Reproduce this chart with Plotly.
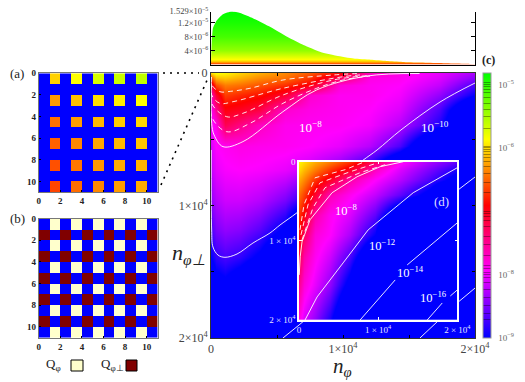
import plotly.graph_objects as go

W, H = 525, 382
SERIF = "Liberation Serif"

def fx(p): return p / W
def fy(p): return 1 - p / H

# ---- main map (log10 values)
main_x = [0, 380, 1060, 2200, 3710, 5610, 7500, 9770, 12050, 14320, 17350, 20000]
main_y = [0, 380, 910, 1660, 2790, 3920, 5510, 7320, 9580, 11850, 13890, 16380, 20000]
main_z = [
 [-6.0,-5.85,-5.9,-6.05,-6.2,-6.35,-6.55,-6.9,-7.7,-7.85,-8.05,-8.3],
 [-6.6,-6.15,-6.1,-6.2,-6.35,-6.45,-6.7,-7.3,-7.85,-7.9,-8.1,-8.45],
 [-7.2,-6.6,-6.4,-6.45,-6.57,-6.72,-6.95,-7.8,-7.9,-7.95,-8.2,-8.7],
 [-7.7,-7.1,-6.66,-6.75,-6.85,-7.1,-7.75,-7.9,-7.9,-8.0,-8.4,-9.0],
 [-7.9,-7.5,-6.97,-7.05,-7.2,-7.75,-7.85,-7.9,-7.95,-8.1,-8.7,-9.8],
 [-8.0,-7.85,-7.25,-7.45,-7.7,-7.88,-7.9,-7.92,-8.0,-8.25,-8.9,-10],
 [-8.1,-7.95,-7.9,-7.85,-7.88,-7.9,-7.95,-8.05,-8.25,-8.7,-10,-12],
 [-8.2,-8.05,-7.98,-7.95,-7.98,-8.05,-8.2,-8.5,-9,-10,-12,-13],
 [-8.4,-8.25,-8.15,-8.15,-8.25,-8.5,-9,-10,-12,-13,-14,-15],
 [-8.7,-8.5,-8.4,-8.45,-8.65,-9.1,-10.5,-12,-13,-14,-15,-16],
 [-9,-8.8,-8.7,-8.8,-9.1,-9.8,-12,-13,-14,-15,-16,-17],
 [-9.6,-9.3,-9.2,-9.5,-10,-11.5,-13,-14,-15,-16,-17,-18],
 [-11,-11,-11,-11.5,-12,-13,-14,-15,-16,-17,-18,-19],
]

# main contour lines
m_d1 = ([30,60,680,1500,2950,5450,9250,11050], [300,906,1411,1380,1155,528,151,38])
m_d2 = ([30,50,680,1670,5450,10000,11290], [800,1660,2290,2165,1155,280,150])
m_d3 = ([30,50,1190,2420,5450,9250,11820], [1000,2290,3300,3040,1660,530,200])
m_d4 = ([30,50,1190,2950,5450,8000,10000,12050], [1500,3300,4430,3800,2290,1155,530,230])
m_s8 = ([15,20,50,230,910,2420,5450,8000,11820,15800], [300,1800,3800,4670,5560,5180,2920,1280,230,40])
m_s10 = ([20,50,150,530,1060,1970,3180,4470,5230,6590,11440,12580,14390,17350,20000],
         [5810,11850,13130,13740,13910,13660,12830,12075,11470,10490,6640,5810,4300,2190,755])
m_s12 = ([5450,6670,18710,20000], [20000,19020,8830,7850])
m_s14 = ([15830,17200,18640,20000], [20000,18720,17360,16230])

# ---- inset map
ins_x = [0, 630, 2030, 3930, 6460, 9620, 12790, 16590, 20000]
ins_y = [0, 1010, 2280, 4180, 6710, 9240, 12030, 15570, 20000]
ins_z = [
 [-5.9,-6.0,-6.2,-6.4,-6.7,-7.3,-7.9,-8.3,-8.6],
 [-6.0,-6.15,-6.4,-6.7,-7.05,-7.7,-8.1,-8.5,-8.9],
 [-6.2,-6.35,-6.7,-7.05,-7.6,-7.95,-8.25,-8.7,-9.2],
 [-6.45,-6.65,-7.1,-7.65,-7.9,-8.2,-8.6,-9.2,-10.5],
 [-6.7,-6.95,-7.6,-7.9,-8.1,-8.6,-9.6,-11,-12],
 [-6.9,-7.3,-7.8,-7.95,-8.3,-9.0,-11,-12,-13],
 [-7.2,-7.6,-7.9,-8.15,-8.7,-9.8,-12,-13,-14],
 [-7.5,-7.8,-8.05,-8.4,-9.2,-11,-13,-14,-15],
 [-7.85,-8.1,-8.4,-8.9,-10,-13,-14,-15,-16],
]
i_d1 = ([130,630,2030,5820,7980], [8610,5440,2030,1010,130])
i_d2 = ([250,1140,2660,6460,9620], [9240,5440,2660,1270,250])
i_d3 = ([380,1770,3290,7720,10890], [9880,5820,3290,1390,380])
i_s8 = ([30,150,380,1390,4180,7340,10250,13170], [14300,12000,10130,7340,3920,1900,630,0])
i_s12 = ([760,2280,5570,8740,14430,20000], [20000,17090,12790,8610,3920,760])
i_s14 = ([7720,12150,None,13670,20000], [20000,14940,None,13040,7720])
i_s16 = ([16200,18100,None,19120,20000], [20000,17850,None,16960,16200])

# ---- top profile
top_x = [0,50,150,430,900,1570,2200,3200,4500,5800,7000,8300,9500,10800,12100,13300,14500,15800,17100,19600,20000]
top_y = [0,6.2e-6,1.05e-5,1.27e-5,1.45e-5,1.529e-5,1.485e-5,1.33e-5,1.08e-5,7.9e-6,5.6e-6,3.6e-6,2.5e-6,1.7e-6,
         1.35e-6,1e-6,7.5e-7,5.5e-7,4e-7,1.5e-7,1e-7]
top_ticks = [4e-6, 8e-6, 1.2e-5, 1.529e-5]
top_labels = ["4×10<sup>−6</sup>", "8×10<sup>−6</sup>", "1.2×10<sup>−5</sup>", "1.529×10<sup>−5</sup>"]
grad_stops = [[0,"#FF3000"],[0.02,"#FF5F00"],[0.046,"#FFB800"],[0.09,"#FFFF00"],[0.26,"#93FF00"],
              [0.52,"#45FF00"],[0.785,"#19FF00"],[1,"#00FF00"]]

# ---- panel (a) and (b)
N = -12
a_z = [
 [N,-6.05,N,-5.86,N,-5.70,N,-5.64,N,-5.60,N],
 [N]*11,
 [N,-6.28,N,-6.12,N,-6.00,N,-5.93,N,-5.86,N],
 [N]*11,
 [N,-6.45,N,-6.26,N,-6.15,N,-6.07,N,-6.02,N],
 [N]*11,
 [N,-6.51,N,-6.35,N,-6.22,N,-6.15,N,-6.10,N],
 [N]*11,
 [N,-6.58,N,-6.42,N,-6.29,N,-6.21,N,-6.17,N],
 [N]*11,
 [N,-6.63,N,-6.46,N,-6.35,N,-6.27,N,-6.21,N],
]
row_even = [0,1,0,1,0,1,0,1,0,1,0]
row_odd = [2,0,2,0,2,0,2,0,2,0,2]
b_z = [row_even, row_odd, row_even, row_odd, row_even, row_odd, row_even, row_odd, row_even, row_odd, row_even]
cells = [0.5,1.5,2.5,3.5,4.5,5.5,6.5,7.5,8.5,9.5,10.5]

# ---- colour bar stripes
cb_stripes = [-4.97,-5.03,-5.07,-5.12,-5.21,-5.30,-5.39,-5.50,-5.70,-5.98,-6.02,-6.06,-6.10,-6.15,-6.21,-6.30,-6.40,
              -6.55,-6.71,-7.0,-7.04,-7.08,-7.14,-7.24,-7.40,-7.53,-7.70,-7.86,-7.91,-7.96,-8.04,-8.12,-8.23,-8.36,
              -8.48,-8.62,-8.70]
cb_decades = [-5,-6,-7,-8,-9]
cb_decade_text = ["  10<sup>−5</sup>","  10<sup>−6</sup>","  10<sup>−7</sup>","  10<sup>−8</sup>","  10<sup>−9</sup>"]

colors = [[0,"#0000FF"],[0.25,"#FF00FF"],[0.5,"#FF0000"],[0.75,"#FFFF00"],[1,"#00FF00"]]

fig = go.Figure()

# main
fig.add_trace(go.Heatmap(x=main_x, y=main_y, z=main_z, coloraxis="coloraxis", zsmooth="best",
                         hoverinfo="skip", xaxis="x", yaxis="y"))

def lines(data, ax, ay, dash=None, shape="linear"):
    fig.add_trace(go.Scatter(x=data[0], y=data[1], mode="lines", xaxis=ax, yaxis=ay, showlegend=False,
                             hoverinfo="skip",
                             line=dict(color="rgba(255,255,255,0.9)", width=1, dash=dash or "solid",
                                       shape=shape)))

for d in (m_d1, m_d2, m_d3, m_d4):
    lines(d, "x", "y", "5px,4px", "spline")
for d in (m_s8, m_s10):
    lines(d, "x", "y", None, "spline")
for d in (m_s12, m_s14):
    lines(d, "x", "y")

# top
fig.add_trace(go.Scatter(x=top_x, y=top_y, mode="lines", fill="tozeroy", xaxis="x2", yaxis="y2", showlegend=False,
                         line=dict(width=0, shape="spline", smoothing=0.5), hoverinfo="skip",
                         fillgradient=dict(type="vertical", colorscale=grad_stops, start=0, stop=1.529e-5)))

# a, b
fig.add_trace(go.Heatmap(x=cells, y=cells, z=a_z, coloraxis="coloraxis", xaxis="x3", yaxis="y3", hoverinfo="skip"))
fig.add_trace(go.Heatmap(x=cells, y=cells, z=b_z, coloraxis="coloraxis2", xaxis="x4", yaxis="y4", hoverinfo="skip"))

# inset
fig.add_trace(go.Heatmap(x=ins_x, y=ins_y, z=ins_z, coloraxis="coloraxis", zsmooth="best",
                         hoverinfo="skip", xaxis="x5", yaxis="y5"))
for d in (i_d1, i_d2, i_d3):
    lines(d, "x5", "y5", "5px,4px")
for d in (i_s8, i_s12, i_s14, i_s16):
    lines(d, "x5", "y5")

big_ticks = [0, 5000, 10000, 15000, 20000]
big_text = ["0", "", "1×10<sup>4</sup>", "", "2×10<sup>4</sup>"]
ink = "#333333"
lab = dict(family=SERIF, size=12, color="#444444")

small_ticks = [0, 2, 4, 6, 8, 10]
small_font = dict(family=SERIF, size=9, color="#222222")
small = dict(tickmode="array", tickvals=small_ticks, ticktext=[f"<b>{v}</b>" for v in small_ticks], ticks="inside",
             ticklen=2, tickcolor="black", showgrid=False, zeroline=False, showline=True, linecolor="#777777",
             mirror=True, tickfont=small_font, linewidth=1)
inset_font = dict(family=SERIF, size=9, color="#E8E8FF")

fig.update_layout(
    width=W, height=H, autosize=False, margin=dict(l=0, r=0, t=0, b=0, autoexpand=False),
    paper_bgcolor="white", plot_bgcolor="white", showlegend=False,
    font=dict(family=SERIF, color="#333333"),
    coloraxis=dict(cmin=-9, cmax=-4.816, colorscale=colors,
                   colorbar=dict(x=fx(483.4), xanchor="left", xpad=0, y=fy(338), yanchor="bottom", ypad=0,
                                 thickness=8.4, thicknessmode="pixels", len=265, lenmode="pixels",
                                 outlinecolor="#999999", outlinewidth=1,
                                 tickmode="array", tickvals=cb_stripes + cb_decades,
                                 ticktext=[""] * len(cb_stripes) + cb_decade_text,
                                 ticks="inside", ticklen=8, tickwidth=1, tickcolor="rgba(0,0,0,0.35)",
                                 tickfont=dict(family=SERIF, size=9, color="#666666"))),
    coloraxis2=dict(cmin=0, cmax=2, showscale=False,
                    colorscale=[[0,"#0000FF"],[0.25,"#0000FF"],[0.25,"#FFFFCC"],[0.75,"#FFFFCC"],
                                [0.75,"#800000"],[1,"#800000"]]),
    xaxis=dict(domain=[fx(211), fx(475)], anchor="y", range=[0, 20000], tickmode="array", tickvals=big_ticks,
               ticktext=big_text, ticks="inside", ticklen=3, tickcolor="black", showgrid=False, zeroline=False,
               showline=True, linecolor=ink, mirror="ticks", tickfont=lab, layer="above traces"),
    yaxis=dict(domain=[fy(338), fy(73)], anchor="x", range=[20000, 0], tickmode="array", tickvals=big_ticks,
               ticktext=big_text, ticks="inside", ticklen=3, tickcolor="black", showgrid=False, zeroline=False,
               showline=True, linecolor=ink, mirror="ticks", tickfont=lab, layer="above traces"),
    xaxis2=dict(domain=[fx(211), fx(475)], anchor="y2", range=[0, 20000], showticklabels=False, ticks="",
                showgrid=False, zeroline=False, showline=True, linecolor="black", linewidth=1),
    yaxis2=dict(domain=[fy(64.5), fy(11.5)], anchor="x2", range=[0, 1.529e-5], tickmode="array", tickvals=top_ticks,
                ticktext=top_labels, ticks="inside", ticklen=4, tickcolor="black", showgrid=False, zeroline=False,
                showline=True, linecolor="black", mirror="ticks",
                tickfont=dict(family=SERIF, size=8.5, color="#444444")),
    xaxis3=dict(domain=[fx(38.7), fx(157.5)], anchor="y3", range=[0, 11], **small),
    yaxis3=dict(domain=[fy(192.3), fy(73.3)], anchor="x3", range=[11, 0], **small),
    xaxis4=dict(domain=[fx(38.7), fx(157.5)], anchor="y4", range=[0, 11], **small),
    yaxis4=dict(domain=[fy(337.7), fy(218.7)], anchor="x4", range=[11, 0], **small),
    xaxis5=dict(domain=[fx(299), fx(457.3)], anchor="y5", range=[0, 20000], tickmode="array",
                tickvals=[0, 10000, 20000], ticktext=["0", "1 × 10<sup>4</sup>", "2 × 10<sup>4</sup>"],
                ticks="inside", ticklen=3, tickcolor="white", showgrid=False, zeroline=False, showline=True,
                linecolor="white", linewidth=1.5, mirror="ticks", tickfont=inset_font),
    yaxis5=dict(domain=[fy(320), fy(161.7)], anchor="x5", range=[20000, 0], tickmode="array",
                tickvals=[0, 10000, 20000], ticktext=["0", "1 × 10<sup>4</sup>", "2 × 10<sup>4</sup>"],
                ticks="inside", ticklen=3, tickcolor="white", showgrid=False, zeroline=False, showline=True,
                linecolor="white", linewidth=1.5, mirror="ticks", tickfont=inset_font),
)

def note(px, py, text, size, color="#222222", **kw):
    fig.add_annotation(xref="paper", yref="paper", x=fx(px), y=fy(py), text=text, showarrow=False,
                       xanchor="center", yanchor="middle", font=dict(family=SERIF, size=size, color=color), **kw)

note(17, 73, "(a)", 13)
note(17, 218, "(b)", 13)
note(488, 60, "<b>(c)</b>", 12)
note(441, 201, "(d)", 13, "#DDDDFF")
note(342, 367, "<i>n<sub>φ</sub></i>", 21)
note(188, 254, "<i>n<sub>φ⊥</sub></i>", 22)
note(310, 127, "10<sup>−8</sup>", 13, "white")
note(435, 127, "10<sup>−10</sup>", 13, "white")
note(346, 210, "10<sup>−8</sup>", 12.5, "white")
note(382, 245, "10<sup>−12</sup>", 12.5, "white")
note(410, 272, "10<sup>−14</sup>", 12.5, "white")
note(433, 297, "10<sup>−16</sup>", 12.5, "white")
note(53, 364, "Q<sub>φ</sub>", 13)
note(112, 364, "Q<sub>φ⊥</sub>", 13)

def box(x0, y0, x1, y1, fill):
    fig.add_shape(type="rect", xref="paper", yref="paper", x0=fx(x0), x1=fx(x1), y0=fy(y0), y1=fy(y1),
                  fillcolor=fill, line=dict(color="black", width=1))

box(71, 360, 83, 371, "#FFFFCC")
box(126, 360, 137, 371, "#800000")

def dots(x0, y0, x1, y1):
    fig.add_shape(type="line", xref="paper", yref="paper", x0=fx(x0), x1=fx(x1), y0=fy(y0), y1=fy(y1),
                  line=dict(color="black", width=1.6, dash="2px,5px"))

dots(163, 73, 199, 73)
dots(161, 185, 208, 78)

fig.write_html("out.html", post_script="document.body.style.margin='0';", config={"displayModeBar": False})
